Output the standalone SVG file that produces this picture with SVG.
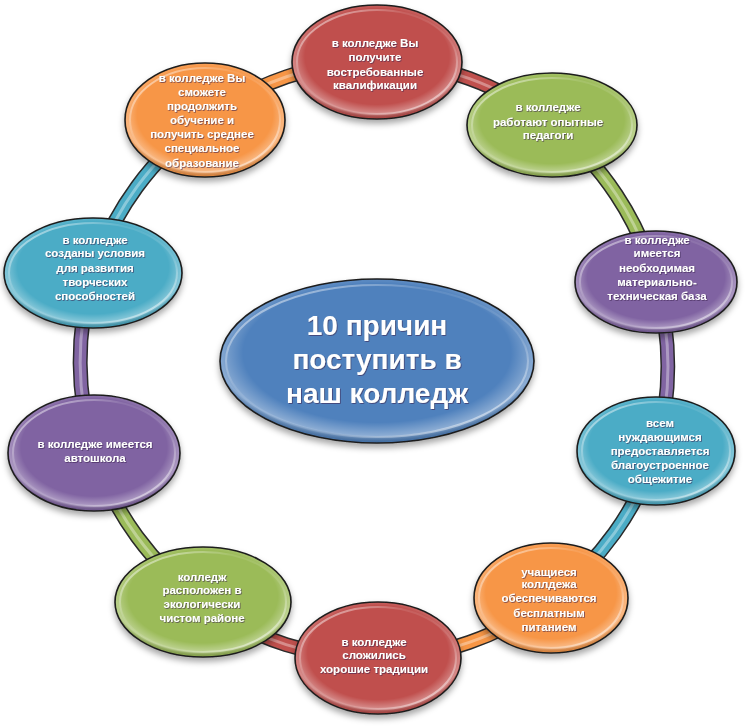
<svg xmlns="http://www.w3.org/2000/svg" width="750" height="727" viewBox="0 0 750 727">
<defs>
  <filter id="shadow" x="-20%" y="-20%" width="140%" height="150%">
    <feDropShadow dx="0" dy="4" stdDeviation="3" flood-color="#000" flood-opacity="0.35"/>
  </filter>
  <filter id="tshadow" x="-10%" y="-30%" width="120%" height="160%">
    <feDropShadow dx="0.8" dy="0.8" stdDeviation="0.7" flood-color="#3a2050" flood-opacity="0.7"/>
  </filter>
  <radialGradient id="gloss" cx="50%" cy="45%" r="55%">
    <stop offset="0.78" stop-color="#fff" stop-opacity="0"/>
    <stop offset="0.93" stop-color="#fff" stop-opacity="0.35"/>
    <stop offset="1" stop-color="#000" stop-opacity="0.15"/>
  </radialGradient>
  <linearGradient id="rim" x1="0" y1="0" x2="1" y2="1">
    <stop offset="0" stop-color="#fff" stop-opacity="0.7"/>
    <stop offset="0.35" stop-color="#fff" stop-opacity="0.1"/>
    <stop offset="0.65" stop-color="#fff" stop-opacity="0.1"/>
    <stop offset="1" stop-color="#fff" stop-opacity="0.7"/>
  </linearGradient>
</defs>
<style>
  .node { stroke: #1e1e1e; stroke-width: 1.6; }
  .red { fill: #C0504D; }
  .green { fill: #9BBB59; }
  .purple { fill: #8064A2; }
  .teal { fill: #4BACC6; }
  .orange { fill: #F79646; }
  .blue { fill: #4F81BD; }
  .gl { fill: url(#gloss); stroke: none; }
  .rim { fill: none; stroke: url(#rim); stroke-width: 2; }
  .lbl { font-family: "Liberation Sans", Arial, sans-serif; font-weight: bold; font-size: 11.5px; fill: #fff; text-anchor: middle; filter: url(#tshadow); }
  .title { font-family: "Liberation Sans", Arial, sans-serif; font-weight: bold; font-size: 28px; fill: #fff; text-anchor: middle; filter: url(#tshadow); }
  .band-o { fill: none; stroke: #2a2a2a; stroke-width: 15; }
  .band { fill: none; stroke-width: 12; }
  .band-h { fill: none; stroke: #fff; stroke-opacity: 0.35; stroke-width: 3; }
  .s-red { stroke: #C0504D; }
  .s-green { stroke: #9BBB59; }
  .s-purple { stroke: #8064A2; }
  .s-teal { stroke: #4BACC6; }
  .s-orange { stroke: #F79646; }
</style>
<rect width="750" height="727" fill="#fff"/>

<g id="connectors">
  <path class="band-o" d="M377 62 A290 300 0 0 1 552 125"/>
  <path class="band s-red" d="M377 62 A290 300 0 0 1 552 125"/>
  <path class="band-h" d="M377 62 A290 300 0 0 1 552 125"/>

  <path class="band-o" d="M552 125 A290 300 0 0 1 656 282"/>
  <path class="band s-green" d="M552 125 A290 300 0 0 1 656 282"/>
  <path class="band-h" d="M552 125 A290 300 0 0 1 656 282"/>

  <path class="band-o" d="M656 282 A290 300 0 0 1 656 451"/>
  <path class="band s-purple" d="M656 282 A290 300 0 0 1 656 451"/>
  <path class="band-h" d="M656 282 A290 300 0 0 1 656 451"/>

  <path class="band-o" d="M656 451 A290 300 0 0 1 551 598"/>
  <path class="band s-teal" d="M656 451 A290 300 0 0 1 551 598"/>
  <path class="band-h" d="M656 451 A290 300 0 0 1 551 598"/>

  <path class="band-o" d="M551 598 A290 300 0 0 1 378 658"/>
  <path class="band s-orange" d="M551 598 A290 300 0 0 1 378 658"/>
  <path class="band-h" d="M551 598 A290 300 0 0 1 378 658"/>

  <path class="band-o" d="M378 658 A290 300 0 0 1 203 602"/>
  <path class="band s-red" d="M378 658 A290 300 0 0 1 203 602"/>
  <path class="band-h" d="M378 658 A290 300 0 0 1 203 602"/>

  <path class="band-o" d="M203 602 A290 300 0 0 1 94 453"/>
  <path class="band s-green" d="M203 602 A290 300 0 0 1 94 453"/>
  <path class="band-h" d="M203 602 A290 300 0 0 1 94 453"/>

  <path class="band-o" d="M94 453 A290 300 0 0 1 93 273"/>
  <path class="band s-purple" d="M94 453 A290 300 0 0 1 93 273"/>
  <path class="band-h" d="M94 453 A290 300 0 0 1 93 273"/>

  <path class="band-o" d="M93 273 A290 300 0 0 1 205 120"/>
  <path class="band s-teal" d="M93 273 A290 300 0 0 1 205 120"/>
  <path class="band-h" d="M93 273 A290 300 0 0 1 205 120"/>

  <path class="band-o" d="M205 120 A290 300 0 0 1 377 62"/>
  <path class="band s-orange" d="M205 120 A290 300 0 0 1 377 62"/>
  <path class="band-h" d="M205 120 A290 300 0 0 1 377 62"/>
</g>

<g id="center">
  <ellipse class="node blue" cx="377" cy="361" rx="157" ry="82" filter="url(#shadow)"/>
  <ellipse class="gl" cx="377" cy="361" rx="156" ry="81"/>
  <ellipse class="rim" cx="377" cy="361" rx="151" ry="76"/>
  <text class="title" x="377" y="335">10 причин</text>
  <text class="title" x="377" y="369">поступить в</text>
  <text class="title" x="377" y="403">наш колледж</text>
</g>

<g id="n1">
  <ellipse class="node red" cx="377" cy="62" rx="85" ry="57" filter="url(#shadow)"/>
  <ellipse class="gl" cx="377" cy="62" rx="84" ry="56"/>
  <ellipse class="rim" cx="377" cy="62" rx="80" ry="52"/>
  <text class="lbl" x="375" y="47">в колледже Вы</text>
  <text class="lbl" x="375" y="61">получите</text>
  <text class="lbl" x="375" y="76">востребованные</text>
  <text class="lbl" x="375" y="89">квалификации</text>
</g>

<g id="n2">
  <ellipse class="node green" cx="552" cy="125" rx="85" ry="52" filter="url(#shadow)"/>
  <ellipse class="gl" cx="552" cy="125" rx="84" ry="51"/>
  <ellipse class="rim" cx="552" cy="125" rx="80" ry="47"/>
  <text class="lbl" x="548" y="111">в колледже</text>
  <text class="lbl" x="548" y="126">работают опытные</text>
  <text class="lbl" x="548" y="139">педагоги</text>
</g>

<g id="n3">
  <ellipse class="node purple" cx="656" cy="282" rx="81" ry="51" filter="url(#shadow)"/>
  <ellipse class="gl" cx="656" cy="282" rx="80" ry="50"/>
  <ellipse class="rim" cx="656" cy="282" rx="76" ry="46"/>
  <text class="lbl" x="657" y="244">в колледже</text>
  <text class="lbl" x="657" y="257">имеется</text>
  <text class="lbl" x="657" y="272">необходимая</text>
  <text class="lbl" x="657" y="286">материально-</text>
  <text class="lbl" x="657" y="300">техническая база</text>
</g>

<g id="n4">
  <ellipse class="node teal" cx="656" cy="451" rx="79" ry="54" filter="url(#shadow)"/>
  <ellipse class="gl" cx="656" cy="451" rx="78" ry="53"/>
  <ellipse class="rim" cx="656" cy="451" rx="74" ry="49"/>
  <text class="lbl" x="660" y="427">всем</text>
  <text class="lbl" x="660" y="441">нуждающимся</text>
  <text class="lbl" x="660" y="455">предоставляется</text>
  <text class="lbl" x="660" y="469">благоустроенное</text>
  <text class="lbl" x="660" y="483">общежитие</text>
</g>

<g id="n5">
  <ellipse class="node orange" cx="551" cy="598" rx="77" ry="55" filter="url(#shadow)"/>
  <ellipse class="gl" cx="551" cy="598" rx="76" ry="54"/>
  <ellipse class="rim" cx="551" cy="598" rx="72" ry="50"/>
  <text class="lbl" x="549" y="576">учащиеся</text>
  <text class="lbl" x="549" y="588">коллдежа</text>
  <text class="lbl" x="549" y="602">обеспечиваются</text>
  <text class="lbl" x="549" y="617">бесплатным</text>
  <text class="lbl" x="549" y="631">питанием</text>
</g>

<g id="n6">
  <ellipse class="node red" cx="378" cy="658" rx="83" ry="56" filter="url(#shadow)"/>
  <ellipse class="gl" cx="378" cy="658" rx="82" ry="55"/>
  <ellipse class="rim" cx="378" cy="658" rx="78" ry="51"/>
  <text class="lbl" x="374" y="646">в колледже</text>
  <text class="lbl" x="374" y="659">сложились</text>
  <text class="lbl" x="374" y="673">хорошие традиции</text>
</g>

<g id="n7">
  <ellipse class="node green" cx="203" cy="602" rx="88" ry="55" filter="url(#shadow)"/>
  <ellipse class="gl" cx="203" cy="602" rx="87" ry="54"/>
  <ellipse class="rim" cx="203" cy="602" rx="83" ry="50"/>
  <text class="lbl" x="202" y="581">колледж</text>
  <text class="lbl" x="202" y="594">расположен в</text>
  <text class="lbl" x="202" y="608">экологически</text>
  <text class="lbl" x="202" y="622">чистом районе</text>
</g>

<g id="n8">
  <ellipse class="node purple" cx="94" cy="453" rx="86" ry="58" filter="url(#shadow)"/>
  <ellipse class="gl" cx="94" cy="453" rx="85" ry="57"/>
  <ellipse class="rim" cx="94" cy="453" rx="81" ry="53"/>
  <text class="lbl" x="95" y="448">в колледже имеется</text>
  <text class="lbl" x="95" y="462">автошкола</text>
</g>

<g id="n9">
  <ellipse class="node teal" cx="93" cy="273" rx="89" ry="55" filter="url(#shadow)"/>
  <ellipse class="gl" cx="93" cy="273" rx="88" ry="54"/>
  <ellipse class="rim" cx="93" cy="273" rx="84" ry="50"/>
  <text class="lbl" x="95" y="244">в колледже</text>
  <text class="lbl" x="95" y="257">созданы условия</text>
  <text class="lbl" x="95" y="272">для развития</text>
  <text class="lbl" x="95" y="286">творческих</text>
  <text class="lbl" x="95" y="300">способностей</text>
</g>

<g id="n10">
  <ellipse class="node orange" cx="205" cy="120" rx="80" ry="57" filter="url(#shadow)"/>
  <ellipse class="gl" cx="205" cy="120" rx="79" ry="56"/>
  <ellipse class="rim" cx="205" cy="120" rx="75" ry="52"/>
  <text class="lbl" x="202" y="82">в колледже Вы</text>
  <text class="lbl" x="202" y="96">сможете</text>
  <text class="lbl" x="202" y="110">продолжить</text>
  <text class="lbl" x="202" y="124">обучение и</text>
  <text class="lbl" x="202" y="138">получить среднее</text>
  <text class="lbl" x="202" y="152">специальное</text>
  <text class="lbl" x="202" y="167">образование</text>
</g>
</svg>
